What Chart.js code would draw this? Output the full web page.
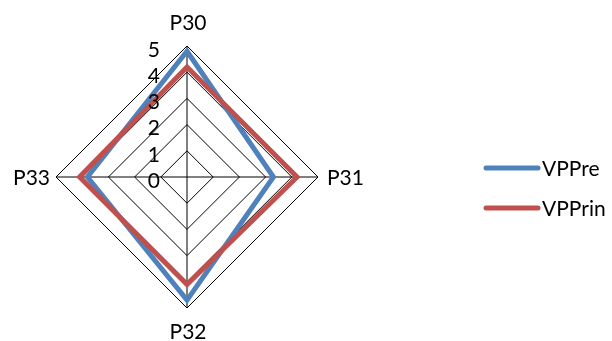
<!DOCTYPE html>
<html>
<head>
<meta charset="utf-8">
<script src="https://cdn.jsdelivr.net/npm/chart.js@4"></script>
<style>
  html, body { margin: 0; padding: 0; background: #fff; }
  #wrap { position: relative; width: 612px; height: 341px; }
</style>
</head>
<body>
<div id="wrap"><canvas id="radar" width="612" height="341"></canvas></div>
<script>
const categories = ['P30', 'P31', 'P32', 'P33'];
const vppre      = [4.8, 3.3, 4.7, 3.8];
const vpprin     = [4.2, 4.2, 4.1, 4.1];
const tickLabels = ['0', '1', '2', '3', '4', '5'];
const FONT = '21px Lato, sans-serif';

// draws axis numbers left of the vertical spoke, point labels and the legend
const labelsPlugin = {
  id: 'excelLabels',
  afterDraw(chart) {
    const { ctx } = chart;
    const r = chart.scales.r;
    ctx.save();
    ctx.font = FONT;
    ctx.fillStyle = '#000';

    ctx.textAlign = 'right';
    ctx.textBaseline = 'middle';
    tickLabels.forEach((t, i) => {
      const y = r.yCenter - r.getDistanceFromCenterForValue(+t);
      ctx.fillText(t, r.xCenter - 27, y + 4);
    });

    categories.forEach((c, i) => {
      const p = r.getPointPositionForValue(i, 5);
      if (i === 0) { ctx.textAlign = 'center'; ctx.fillText(c, p.x + 1, p.y - 23); }
      if (i === 1) { ctx.textAlign = 'left';   ctx.fillText(c, p.x + 9, p.y + 1); }
      if (i === 2) { ctx.textAlign = 'center'; ctx.fillText(c, p.x + 1, p.y + 24); }
      if (i === 3) { ctx.textAlign = 'right';  ctx.fillText(c, p.x - 6, p.y + 1); }
    });

    chart.data.datasets.forEach((ds, i) => {
      const y = 168 + i * 40;
      ctx.beginPath();
      ctx.lineWidth = 5;
      ctx.lineCap = 'round';
      ctx.strokeStyle = ds.borderColor;
      ctx.moveTo(486, y);
      ctx.lineTo(538, y);
      ctx.stroke();
      ctx.textAlign = 'left';
      ctx.fillText(ds.label, 542, y + 1);
    });
    ctx.restore();
  }
};

new Chart(document.getElementById('radar'), {
  type: 'radar',
  data: {
    labels: categories,
    datasets: [
      { label: 'VPPre',  data: vppre,  borderColor: '#4F81BD', order: 1 },
      { label: 'VPPrin', data: vpprin, borderColor: '#C0504D', order: 0 }
    ]
  },
  options: {
    responsive: false,
    animation: false,
    layout: { padding: { left: 56, right: 294, top: 46, bottom: 33 } },
    elements: {
      line: { borderWidth: 5, fill: false, tension: 0, borderJoinStyle: 'miter' },
      point: { radius: 0, hoverRadius: 0 }
    },
    scales: {
      r: {
        min: 0, max: 5,
        ticks: { display: false, stepSize: 1 },
        pointLabels: { display: false },
        grid: { color: '#000', lineWidth: 1 },
        angleLines: { color: '#000', lineWidth: 1 }
      }
    },
    plugins: { legend: { display: false }, tooltip: { enabled: false } }
  },
  plugins: [labelsPlugin]
});
</script>
</body>
</html>
